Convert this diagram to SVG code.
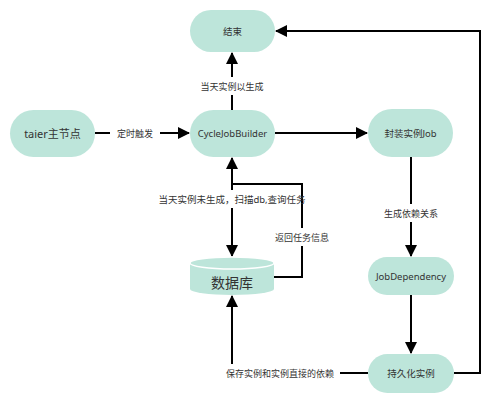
<svg xmlns="http://www.w3.org/2000/svg" width="500" height="403" viewBox="0 0 500 403">
<defs>
<style>
.node{fill:#bde5da;}
.nt{font-family:"Noto Sans","Noto Sans CJK SC",sans-serif;font-size:9.5px;fill:#333;text-anchor:middle;dominant-baseline:central;}
.lt{font-family:"Noto Sans","Noto Sans CJK SC",sans-serif;font-size:9px;fill:#333;text-anchor:middle;dominant-baseline:central;}
.edge{fill:none;stroke:#000;stroke-width:2;}
.bg{fill:#fff;}
</style>
<marker id="arr" markerUnits="userSpaceOnUse" markerWidth="12" markerHeight="12" viewBox="0 0 12 12" refX="11" refY="6" orient="auto">
<path d="M0,0 L12,6 L0,12 z" fill="#000"/>
</marker>
</defs>
<rect width="500" height="403" fill="#fff"/>
<g id="connectors">
<path class="edge" d="M95,133 H189" marker-end="url(#arr)"/>
<path class="edge" d="M232,110 V53" marker-end="url(#arr)"/>
<path class="edge" d="M275,133 H367" marker-end="url(#arr)"/>
<path class="edge" d="M411,157 V256" marker-end="url(#arr)"/>
<path class="edge" d="M411,295 V353" marker-end="url(#arr)"/>
<path class="edge" d="M454,373 H480 V31 H276" marker-end="url(#arr)"/>
<path class="edge" d="M232,167 V256" marker-end="url(#arr)"/>
<path class="edge" d="M274,277 H302 V184 H232 V158" marker-end="url(#arr)"/>
<path class="edge" d="M368,373 H232 V296" marker-end="url(#arr)"/>
<rect class="bg" x="110" y="124" width="50" height="18"/>
<text class="lt" x="135" y="133">定时触发</text>
<rect class="bg" x="198" y="77" width="68" height="18"/>
<text class="lt" x="232" y="86">当天实例以生成</text>
<rect class="bg" x="380" y="204" width="62" height="18"/>
<text class="lt" x="411" y="213">生成依赖关系</text>
<rect class="bg" x="162" y="190" width="139" height="18"/>
<text class="lt" x="232" y="199" style="font-size:9.5px">当天实例未生成，扫描db,查询任务</text>
<rect class="bg" x="272" y="228" width="60" height="18"/>
<text class="lt" x="302" y="237">返回任务信息</text>
<rect class="bg" x="222" y="364" width="118" height="19"/>
<text class="lt" x="280" y="373">保存实例和实例直接的依赖</text>
</g>
<g id="end">
<rect class="node" x="190" y="10" width="85" height="42" rx="21"/>
<text class="nt" x="232.5" y="31">结束</text>
</g>
<g id="taier">
<rect class="node" x="10" y="110" width="85" height="47" rx="23.5"/>
<text class="nt" x="52.5" y="133.5" style="font-size:11px">taier主节点</text>
</g>
<g id="cyclejobbuilder">
<rect class="node" x="190" y="110" width="85" height="47" rx="23.5"/>
<text class="nt" x="232.5" y="133.5">CycleJobBuilder</text>
</g>
<g id="wrapjob">
<rect class="node" x="368" y="109" width="85" height="48" rx="24"/>
<text class="nt" x="410.5" y="133">封装实例Job</text>
</g>
<g id="jobdependency">
<rect class="node" x="368" y="257" width="86" height="38" rx="19"/>
<text class="nt" x="411" y="276">JobDependency</text>
</g>
<g id="persist">
<rect class="node" x="368" y="354" width="86" height="39" rx="19.5"/>
<text class="nt" x="411" y="373.5">持久化实例</text>
</g>
<g id="database">
<path class="node" d="M190,263 V289 A42,6 0 0 0 274,289 V263 A42,6 0 0 0 190,263 Z"/>
<ellipse cx="232" cy="263" rx="42" ry="6" fill="#bde5da" stroke="#fff" stroke-width="1.5"/>
<text class="nt" x="232" y="282" style="font-size:14px">数据库</text>
</g>
</svg>
